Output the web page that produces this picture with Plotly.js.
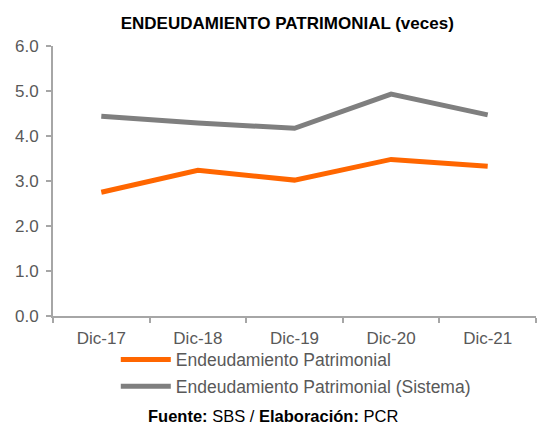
<!DOCTYPE html>
<html>
<head>
<meta charset="utf-8">
<script src="https://cdn.plot.ly/plotly-3.0.1.min.js"></script>
<style>
  html, body { margin: 0; padding: 0; background: #fff; }
  #chart { width: 542px; height: 429px; }
</style>
</head>
<body>
<div id="chart"></div>
<script>
// periods and ratios (veces)
const periods = ['Dic-17', 'Dic-18', 'Dic-19', 'Dic-20', 'Dic-21'];
const endeudamiento = [2.75, 3.24, 3.02, 3.48, 3.33];
const sistema = [4.44, 4.29, 4.17, 4.93, 4.47];

const fnt = 'Liberation Sans, Arial, sans-serif';
const axisGray = '#a6a6a6';

const traces = [{
  x: periods,
  y: endeudamiento,
  name: 'Endeudamiento Patrimonial',
  legendgroup: 'a',
  mode: 'lines',
  line: {color: '#ff6600', width: 5}
}, {
  x: periods,
  y: sistema,
  name: 'Endeudamiento Patrimonial (Sistema)',
  legendgroup: 'b',
  mode: 'lines',
  line: {color: '#7f7f7f', width: 5}
}];

const layout = {
  width: 542,
  height: 429,
  margin: {l: 53, r: 6, t: 46, b: 113},
  paper_bgcolor: '#fff',
  plot_bgcolor: '#fff',
  font: {family: fnt, size: 16, color: '#595959'},
  title: {
    text: '<b>ENDEUDAMIENTO PATRIMONIAL (veces)</b>',
    font: {family: fnt, size: 17, color: '#000'},
    x: 0.53, xanchor: 'center', y: 0.947, yanchor: 'middle'
  },
  xaxis: {
    type: 'category',
    range: [-0.5, 4.5],
    showline: true, linecolor: axisGray, linewidth: 2,
    ticks: 'outside', tickson: 'boundaries', ticklen: 5, tickcolor: axisGray, tickwidth: 2,
    ticklabelstandoff: 6,
    showgrid: false, zeroline: false,
    tickfont: {size: 17, color: '#595959'}
  },
  yaxis: {
    range: [0, 6], dtick: 1, tickformat: '.1f',
    showline: true, linecolor: axisGray, linewidth: 2,
    ticks: 'outside', ticklen: 5, tickcolor: axisGray, tickwidth: 2,
    ticklabelstandoff: 4,
    showgrid: false, zeroline: false,
    tickfont: {size: 17, color: '#595959'}
  },
  showlegend: true,
  legend: {
    orientation: 'v',
    x: 0.13, xanchor: 'left', y: -0.095, yanchor: 'top',
    traceorder: 'grouped', tracegroupgap: 1,
    itemwidth: 50,
    font: {size: 17.5, color: '#595959'},
    bgcolor: 'rgba(0,0,0,0)'
  },
  annotations: [{
    text: '<b>Fuente:</b> SBS / <b>Elaboración:</b> PCR',
    xref: 'paper', yref: 'paper',
    x: 0.455, xanchor: 'center', y: -0.37, yanchor: 'middle',
    showarrow: false,
    font: {family: fnt, size: 16.5, color: '#000'}
  }]
};

Plotly.newPlot('chart', traces, layout, {displayModeBar: false, responsive: false});
</script>
</body>
</html>
